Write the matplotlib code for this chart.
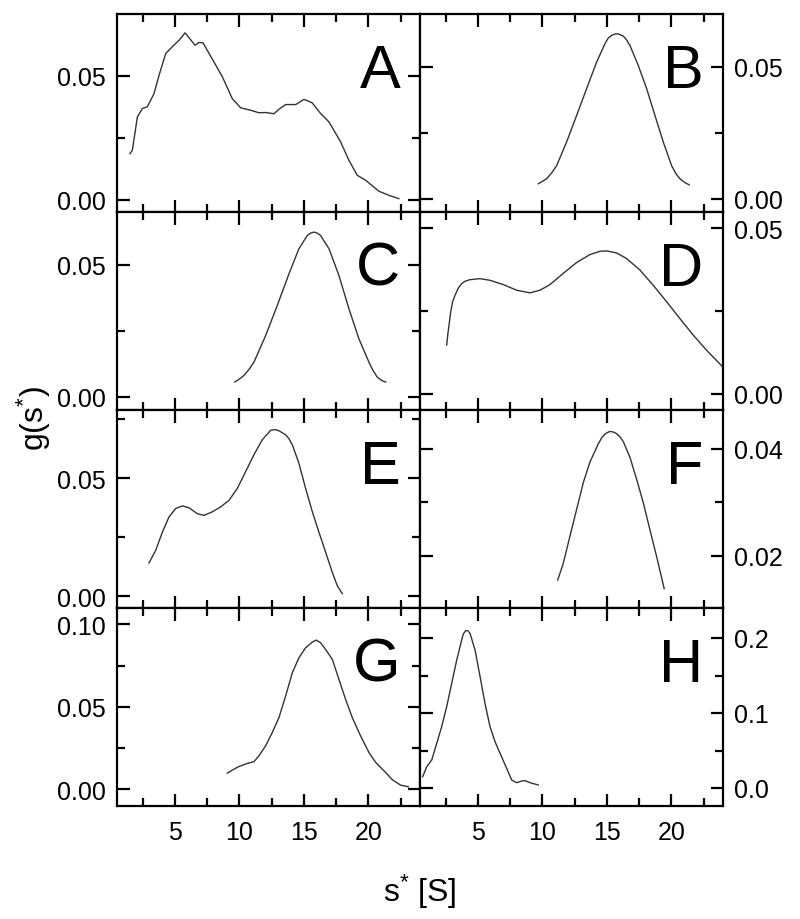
import matplotlib
matplotlib.use("Agg")
import matplotlib.pyplot as plt
from matplotlib.ticker import MultipleLocator, FormatStrFormatter

plt.rcParams['font.family'] = ['Liberation Sans', 'DejaVu Sans']
plt.rcParams['mathtext.fontset'] = 'custom'
plt.rcParams['mathtext.rm'] = 'Liberation Sans'
plt.rcParams['mathtext.it'] = 'Liberation Sans'

# ---- data ----
a_x = [1.51, 1.69, 2.08, 2.47, 2.85, 3.37, 3.76, 4.28, 4.79, 5.31, 5.78, 6.14, 6.55, 6.86, 7.17,
       7.64, 8.16, 8.67, 9.44, 10.09, 10.87, 11.51, 12.03, 12.67, 13.06, 13.58, 14.36, 15.0,
       15.64, 16.29, 16.94, 17.84, 18.49, 19.13, 19.78, 20.81, 21.59, 22.36]
a_y = [0.0185, 0.0199, 0.0333, 0.0367, 0.0374, 0.0427, 0.0501, 0.0589, 0.0616, 0.0642, 0.0672,
       0.0649, 0.0622, 0.0633, 0.0632, 0.0589, 0.0542, 0.0495, 0.0407, 0.0370, 0.0360, 0.0350,
       0.0351, 0.0346, 0.0364, 0.0383, 0.0383, 0.0404, 0.0390, 0.0347, 0.0313, 0.0233, 0.0158,
       0.0098, 0.0078, 0.0034, 0.0017, 0.0004]

b_x = [9.68, 10.32, 10.71, 11.10, 11.87, 12.65, 13.42, 14.20, 14.84, 15.10, 15.36, 15.62, 15.80,
       16.01, 16.27, 16.52, 16.78, 17.43, 18.08, 18.72, 19.37, 20.01, 20.35, 20.66, 21.05, 21.38]
b_y = [0.0057, 0.0076, 0.0098, 0.0126, 0.0215, 0.0316, 0.0417, 0.0518, 0.0587, 0.0609, 0.0619,
       0.0624, 0.0625, 0.0622, 0.0616, 0.0602, 0.0581, 0.0505, 0.0417, 0.0316, 0.0215, 0.0126,
       0.0095, 0.0076, 0.0061, 0.0053]

c_x = [9.63, 9.96, 10.35, 10.74, 11.12, 12.03, 12.93, 13.84, 14.61, 15.26, 15.52, 15.78, 16.03,
       16.29, 16.94, 17.71, 18.49, 19.26, 20.04, 20.35, 20.68, 21.02, 21.33]
c_y = [0.0056, 0.0066, 0.0081, 0.0104, 0.0131, 0.0232, 0.0346, 0.0466, 0.0561, 0.0611, 0.0620,
       0.0624, 0.0620, 0.0611, 0.0561, 0.0460, 0.0333, 0.0220, 0.0131, 0.0100, 0.0075, 0.0062,
       0.0056]

d_x = [2.57, 2.65, 2.75, 2.88, 3.03, 3.22, 3.48, 3.73, 4.04, 4.38, 5.16, 5.93, 6.96, 8.00, 9.03,
       9.81, 10.58, 11.61, 12.65, 13.68, 14.46, 14.97, 15.75, 16.52, 17.56, 18.59, 19.63, 20.66,
       21.69, 22.73, 23.97]
d_y = [0.0147, 0.0177, 0.0207, 0.0247, 0.0278, 0.0298, 0.0320, 0.0333, 0.0341, 0.0345, 0.0348,
       0.0343, 0.0330, 0.0313, 0.0305, 0.0313, 0.0330, 0.0364, 0.0397, 0.0421, 0.0431, 0.0432,
       0.0426, 0.0409, 0.0374, 0.0328, 0.0278, 0.0227, 0.0177, 0.0131, 0.0081]

e_x = [2.98, 3.50, 4.02, 4.53, 5.05, 5.57, 6.09, 6.73, 7.25, 7.89, 8.54, 9.19, 9.83, 10.48, 11.12,
       11.77, 12.16, 12.42, 12.75, 13.06, 13.58, 13.84, 14.10, 14.61, 15.13, 15.65, 16.16, 16.68,
       17.20, 17.59, 17.97]
e_y = [0.0141, 0.0194, 0.0272, 0.0336, 0.0372, 0.0383, 0.0375, 0.0350, 0.0343, 0.0358, 0.0379,
       0.0407, 0.0457, 0.0529, 0.0600, 0.0664, 0.0688, 0.0704, 0.0707, 0.0702, 0.0685, 0.0668,
       0.0642, 0.0564, 0.0457, 0.0358, 0.0272, 0.0187, 0.0101, 0.0044, 0.0011]

f_x = [11.18, 11.61, 12.13, 12.65, 13.17, 13.68, 14.33, 14.59, 14.84, 15.03, 15.23, 15.49, 15.75,
       16.01, 16.27, 16.78, 17.30, 17.82, 18.33, 18.85, 19.44]
f_y = [0.0155, 0.0186, 0.0237, 0.0287, 0.0337, 0.0375, 0.0409, 0.0420, 0.0427, 0.0430, 0.0432,
       0.0431, 0.0428, 0.0422, 0.0413, 0.0384, 0.0343, 0.0299, 0.0249, 0.0199, 0.0139]

g_x = [9.06, 9.44, 9.96, 10.61, 11.12, 11.51, 12.03, 12.54, 13.06, 13.58, 14.10, 14.61, 15.13,
       15.65, 15.96, 16.29, 16.68, 17.20, 17.71, 18.23, 18.75, 19.39, 20.04, 20.56, 21.33, 21.85,
       22.49, 23.09]
g_y = [0.0097, 0.0115, 0.0137, 0.0156, 0.0166, 0.0202, 0.0263, 0.0343, 0.0434, 0.0566, 0.0707,
       0.0798, 0.0859, 0.0893, 0.0905, 0.0889, 0.0848, 0.0788, 0.0667, 0.0545, 0.0434, 0.0323,
       0.0222, 0.0162, 0.0101, 0.0057, 0.0024, 0.0014]

h_x = [0.71, 1.02, 1.41, 1.80, 2.18, 2.57, 2.96, 3.35, 3.73, 3.86, 4.04, 4.20, 4.38, 4.77, 5.16,
       5.54, 5.93, 6.32, 6.71, 7.22, 7.61, 8.00, 8.39, 8.64, 9.03, 9.68]
h_y = [0.0151, 0.0284, 0.0373, 0.0596, 0.0818, 0.1084, 0.1396, 0.1707, 0.1973, 0.2053, 0.2098,
       0.2098, 0.2062, 0.1840, 0.1484, 0.1129, 0.0818, 0.0618, 0.0462, 0.0262, 0.0107, 0.0071,
       0.0093, 0.0098, 0.0071, 0.0040]

panel_letters = ['A', 'B', 'C', 'D', 'E', 'F', 'G', 'H']
x_ticks = [5, 10, 15, 20]

series = [(a_x, a_y), (b_x, b_y), (c_x, c_y), (d_x, d_y),
          (e_x, e_y), (f_x, f_y), (g_x, g_y), (h_x, h_y)]
ylims = [(-0.005, 0.0748), (-0.005, 0.070), (-0.005, 0.070), (-0.005, 0.055),
         (-0.005, 0.079), (0.0103, 0.0472), (-0.0103, 0.110), (-0.024, 0.24)]
ymajor = [0.05, 0.05, 0.05, 0.05, 0.05, 0.02, 0.05, 0.1]
yminor = [0.025, 0.025, 0.025, 0.025, 0.025, 0.01, 0.025, 0.05]
yfmt = ['%.2f'] * 7 + ['%.1f']

fig = plt.figure(figsize=(8, 9.2), dpi=100)
gs = fig.add_gridspec(4, 2, left=117/800, right=723/800, top=1-15/920, bottom=1-807/920,
                      hspace=0, wspace=0)

line_color = '#333333'
for i in range(8):
    r, c = divmod(i, 2)
    ax = fig.add_subplot(gs[r, c])
    xs, ys = series[i]
    ax.plot(xs, ys, color=line_color, lw=1.0)
    ax.set_xlim(0.5, 24)
    ax.set_ylim(*ylims[i])
    ax.xaxis.set_major_locator(MultipleLocator(5))
    ax.xaxis.set_minor_locator(MultipleLocator(2.5))
    ax.set_xticks(x_ticks)
    ax.yaxis.set_major_locator(MultipleLocator(ymajor[i]))
    ax.yaxis.set_minor_locator(MultipleLocator(yminor[i]))
    ax.yaxis.set_major_formatter(FormatStrFormatter(yfmt[i]))
    for s in ax.spines.values():
        s.set_linewidth(1.6)
    ax.tick_params(which='both', direction='in', top=True, bottom=True, left=True, right=True,
                   width=1.6, colors='black')
    ax.tick_params(which='major', length=9, labelsize=18, pad=8)
    ax.tick_params(which='minor', length=5.5)
    if c == 0:
        ax.tick_params(labelleft=True, labelright=False)
    else:
        ax.tick_params(labelleft=False, labelright=True)
    ax.tick_params(axis='x', labelbottom=(r == 3), pad=10)
    ax.text(0.935, 0.71, panel_letters[i], transform=ax.transAxes, ha='right', va='center',
            fontsize=44)

fig.text(420/800, 1-892/920, r's$^{*}$ [S]', ha='center', va='center', fontsize=23)
fig.text(34/800, 1-418/920, r'g(s$^{*}$)', ha='center', va='center', fontsize=23, rotation=90)

fig.savefig('out.png', dpi=100)
